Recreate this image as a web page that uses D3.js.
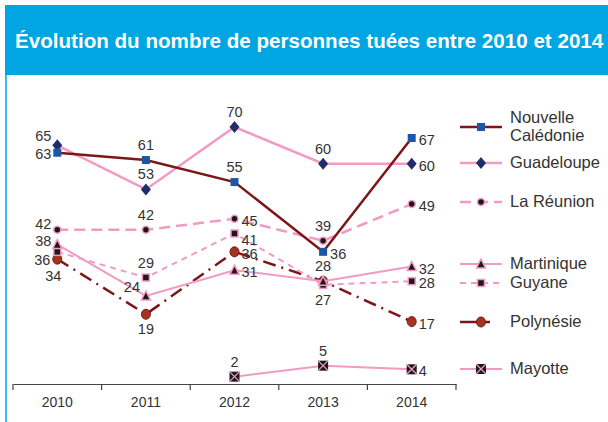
<!DOCTYPE html>
<html>
<head>
<meta charset="utf-8">
<title>Évolution du nombre de personnes tuées</title>
<script src="https://cdn.jsdelivr.net/npm/d3@7"></script>
<style>
  body { margin: 0; background: #fff; }
  text { font-family: "Liberation Sans", Arial, sans-serif; }
</style>
</head>
<body>
<svg id="chart" width="608" height="422"></svg>
<script>
  const years = ['2010', '2011', '2012', '2013', '2014'];
  const nouvelleCaledonie = [63, 61, 55, 36, 67];
  const guadeloupe = [65, 53, 70, 60, 60];
  const laReunion = [42, 42, 45, 39, 49];
  const martinique = [38, 24, 31, 28, 32];
  const guyane = [36, 29, 41, 27, 28];
  const polynesie = [34, 19, 36, 28, 17];
  const mayotte = [null, null, 2, 5, 4];

  // where each value label sits relative to its marker (null = no label)
  const labelPos = {
    nc:  ['l', 't', 't', 'r', 'r'],
    gua: ['tl', 't', 't', 't', 'r'],
    reu: ['lu2', 't', 'r', 't', 'r'],
    mar: ['lu', 'tl', 'r', 't', 'r'],
    guy: ['bl', 't', 'rb', 'b', 'r'],
    pol: ['b2', 'b', 'r', null, 'r'],
    may: [null, null, 't', 't', 'r']
  };

  const pink = '#f29ac2', darkRed = '#7d1619';
  const series = [
    { key: 'nc', name: ['Nouvelle', 'Calédonie'], values: nouvelleCaledonie, color: darkRed, width: 2.5, dash: null, marker: 'square', fill: '#1d56a6', stroke: 'none', ly: 127 },
    { key: 'gua', name: ['Guadeloupe'], values: guadeloupe, color: pink, width: 2.5, dash: null, marker: 'diamond', fill: '#1f2d6b', stroke: 'none', ly: 163 },
    { key: 'reu', name: ['La Réunion'], values: laReunion, color: pink, width: 2.5, dash: '11,6', marker: 'dot', fill: '#1a1a1a', stroke: pink, ly: 202 },
    { key: 'mar', name: ['Martinique'], values: martinique, color: pink, width: 2, dash: null, marker: 'triangle', fill: '#1a1a1a', stroke: pink, ly: 264 },
    { key: 'guy', name: ['Guyane'], values: guyane, color: pink, width: 2, dash: '6,5', marker: 'smallsquare', fill: '#1a1a1a', stroke: pink, ly: 283 },
    { key: 'pol', name: ['Polynésie'], values: polynesie, color: darkRed, width: 2.5, dash: '13,6,2,6', marker: 'circle', fill: '#a3341f', stroke: darkRed, ly: 322 },
    { key: 'may', name: ['Mayotte'], values: mayotte, color: pink, width: 2, dash: null, marker: 'cross', fill: '#1a1a1a', stroke: pink, ly: 369 }
  ];

  const svg = d3.select('#chart');

  // title band + left frame line
  svg.append('rect').attr('x', 5).attr('y', 5).attr('width', 603).attr('height', 70).attr('fill', '#00a5e2');
  svg.append('line').attr('x1', 6).attr('x2', 6).attr('y1', 5).attr('y2', 422)
    .attr('stroke', '#00a5e2').attr('stroke-width', 1.5);
  svg.append('text').attr('x', 15).attr('y', 48)
    .attr('fill', '#fff').attr('font-weight', 'bold').attr('font-size', 20.6)
    .text('Évolution du nombre de personnes tuées entre 2010 et 2014');

  const x = d3.scaleBand().domain(years).range([13, 456]).padding(0);
  const cx = d => x(d) + x.bandwidth() / 2;
  const y = d3.scaleLinear().domain([0, 70]).range([384, 127]);

  // x axis: labels centered, ticks on band edges
  const axisG = svg.append('g').attr('transform', 'translate(0,384)')
    .call(d3.axisBottom(x).tickSize(0).tickPadding(13));
  axisG.select('.domain').attr('stroke', '#444').attr('stroke-width', 1.2);
  axisG.selectAll('text').attr('font-size', 14).attr('fill', '#333')
    .attr('font-family', '"Liberation Sans", Arial, sans-serif');
  const edges = years.map(d => x(d)).concat([x(years[years.length - 1]) + x.bandwidth()]);
  axisG.selectAll('.edge').data(edges).enter().append('line')
    .attr('x1', d => d).attr('x2', d => d).attr('y1', 0).attr('y2', 6)
    .attr('stroke', '#444').attr('stroke-width', 1.2);

  function drawMarker(g, s, px, py) {
    const m = g.append('g').attr('transform', `translate(${px},${py})`);
    if (s.marker === 'square') {
      m.append('rect').attr('x', -4).attr('y', -4).attr('width', 8).attr('height', 8).attr('fill', s.fill);
    } else if (s.marker === 'diamond') {
      m.append('path').attr('d', 'M0,-6L5,0L0,6L-5,0Z').attr('fill', s.fill);
    } else if (s.marker === 'dot') {
      m.append('circle').attr('r', 3.5).attr('fill', s.fill).attr('stroke', s.stroke).attr('stroke-width', 1.5);
    } else if (s.marker === 'triangle') {
      m.append('path').attr('d', 'M0,-5L4.5,4L-4.5,4Z').attr('fill', s.fill).attr('stroke', s.stroke).attr('stroke-width', 1.5);
    } else if (s.marker === 'smallsquare') {
      m.append('rect').attr('x', -3.5).attr('y', -3.5).attr('width', 7).attr('height', 7)
        .attr('fill', s.fill).attr('stroke', s.stroke).attr('stroke-width', 1.5);
    } else if (s.marker === 'circle') {
      m.append('ellipse').attr('rx', 4.5).attr('ry', 5).attr('fill', s.fill).attr('stroke', s.stroke).attr('stroke-width', 1);
    } else if (s.marker === 'cross') {
      m.append('rect').attr('x', -5).attr('y', -5).attr('width', 10).attr('height', 10).attr('fill', s.fill);
      m.append('path').attr('d', 'M-5,-5L5,5M5,-5L-5,5').attr('stroke', s.stroke).attr('stroke-width', 1.3);
    }
  }

  const offsets = {
    l: [-14, 1, 'middle'], lu: [-14, -4, 'middle'], lu2: [-14, -6, 'middle'],
    r: [7, 2, 'start'], rb: [7, 6, 'start'],
    t: [0, -15, 'middle'], b: [0, 15, 'middle'],
    tl: [-14, -9, 'middle'], bl: [-15, 8, 'middle'], b2: [-4, 17, 'middle']
  };

  const line = d3.line()
    .defined(d => d.v != null)
    .x(d => cx(d.year))
    .y(d => y(d.v));

  // draw lines bottom-up so that the upper series sit on top like the original
  const plot = svg.append('g');
  series.slice().reverse().forEach(s => {
    const pts = years.map((yr, i) => ({ year: yr, v: s.values[i], pos: labelPos[s.key][i] }));
    const g = plot.append('g');
    g.append('path').datum(pts).attr('d', line)
      .attr('fill', 'none').attr('stroke', s.color).attr('stroke-width', s.width)
      .attr('stroke-dasharray', s.dash);
    pts.filter(d => d.v != null).forEach(d => drawMarker(g, s, cx(d.year), y(d.v)));
  });

  // value labels
  series.forEach(s => {
    years.forEach((yr, i) => {
      const v = s.values[i], pos = labelPos[s.key][i];
      if (v == null || !pos) return;
      const o = offsets[pos];
      svg.append('text')
        .attr('x', cx(yr) + o[0]).attr('y', y(v) + o[1])
        .attr('dy', '0.35em').attr('text-anchor', o[2])
        .attr('font-size', 14.5).attr('fill', '#333')
        .text(v);
    });
  });

  // legend
  const leg = svg.append('g');
  series.forEach(s => {
    const g = leg.append('g');
    g.append('line').attr('x1', 460).attr('x2', 502).attr('y1', s.ly).attr('y2', s.ly)
      .attr('stroke', s.color).attr('stroke-width', s.width)
      .attr('stroke-dasharray', s.dash ? (s.marker === 'circle' ? '18,6,6' : s.dash) : null);
    drawMarker(g, s, 481, s.ly);
    const t = g.append('text').attr('x', 510).attr('font-size', 16.5).attr('fill', '#333');
    if (s.name.length === 2) {
      t.append('tspan').attr('x', 510).attr('y', s.ly - 9 + 5).text(s.name[0]);
      t.append('tspan').attr('x', 510).attr('y', s.ly + 9 + 5).text(s.name[1]);
    } else {
      t.attr('y', s.ly + 5).text(s.name[0]);
    }
  });
</script>
</body>
</html>
